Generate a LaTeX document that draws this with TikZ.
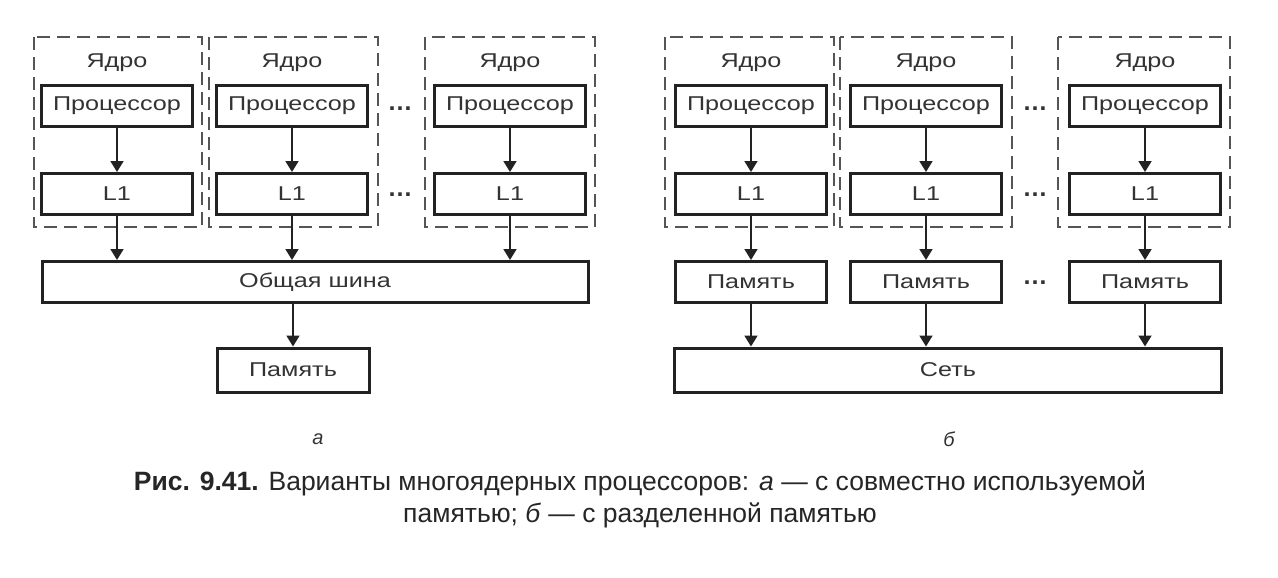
\documentclass[tikz,border=0pt]{standalone}
\usepackage{fontspec}
\setmainfont{Liberation Sans}
\newfontfamily\diafont[FakeStretch=1.26]{Liberation Sans}
\usetikzlibrary{arrows.meta}
\definecolor{boxcol}{HTML}{222222}
\definecolor{dashcol}{HTML}{555555}
\definecolor{txtcol}{HTML}{333333}
\tikzset{
  unit/.style={draw=boxcol, line width=3pt, minimum height=41pt, inner sep=0pt,
    text=txtcol, font=\diafont\fontsize{20}{21}\selectfont},
  proc/.style={unit, minimum width=151pt},
  core/.style={draw=dashcol, line width=2.3pt, dash pattern=on 13pt off 7pt},
  corelabel/.style={text=txtcol, font=\diafont\fontsize{20}{21}\selectfont},
  link/.style={draw=boxcol, line width=1.8pt, -{Triangle[length=11pt,width=13pt]}},
  dots/.style={text=txtcol, font=\bfseries\fontsize{25}{25}\selectfont},
  sub/.style={text=txtcol, font=\itshape\fontsize{20}{20}\selectfont},
}
\begin{document}
\begin{tikzpicture}[x=1pt,y=-1pt]
\useasboundingbox[fill=white] (0,0) rectangle (1278,578);

% ---- (a) shared memory ----
\foreach \i/\l/\r in {1/34/202, 2/209/378, 3/425/595}{
  \draw[core] (\l,37) rectangle (\r,227);
}
\node[corelabel] (ka1) at (117,63) {Ядро};
\node[corelabel] (ka2) at (292,63) {Ядро};
\node[corelabel] (ka3) at (510,63) {Ядро};
\node[proc] (pa1) at (117,106) {Процессор};
\node[proc] (pa2) at (292,106) {Процессор};
\node[proc] (pa3) at (510,106) {Процессор};
\node[proc] (la1) at (117,194) {L1};
\node[proc] (la2) at (292,194) {L1};
\node[proc] (la3) at (510,194) {L1};
\node[dots] (da1) at (400,109) {\dots};
\node[dots] (da2) at (400,195) {\dots};
\node[unit, minimum width=546pt] (bus) at (315,282) {Общая шина};
\node[unit, minimum width=152pt, minimum height=44pt] (mema) at (293,370) {Память};
\foreach \i in {1,2,3}{
  \draw[link] (pa\i.south) -- (la\i.north);
  \draw[link] (la\i.south) -- (la\i.south |- bus.north);
}
\draw[link] (bus.south -| mema.north) -- (mema.north);
\node[sub] (suba) at (318,439) {а};

% ---- (b) distributed memory ----
\foreach \i/\l/\r in {1/665/834, 2/840/1012, 3/1058/1230}{
  \draw[core] (\l,37) rectangle (\r,227);
}
\node[corelabel] (kb1) at (751,63) {Ядро};
\node[corelabel] (kb2) at (926,63) {Ядро};
\node[corelabel] (kb3) at (1145,63) {Ядро};
\node[proc] (pb1) at (751,106) {Процессор};
\node[proc] (pb2) at (926,106) {Процессор};
\node[proc] (pb3) at (1145,106) {Процессор};
\node[proc] (lb1) at (751,194) {L1};
\node[proc] (lb2) at (926,194) {L1};
\node[proc] (lb3) at (1145,194) {L1};
\node[proc] (mb1) at (751,282) {Память};
\node[proc] (mb2) at (926,282) {Память};
\node[proc] (mb3) at (1145,282) {Память};
\node[dots] (db1) at (1035,109) {\dots};
\node[dots] (db2) at (1035,195) {\dots};
\node[dots] (db3) at (1035,283) {\dots};
\node[unit, minimum width=547pt, minimum height=44pt] (net) at (948,370) {Сеть};
\foreach \i in {1,2,3}{
  \draw[link] (pb\i.south) -- (lb\i.north);
  \draw[link] (lb\i.south) -- (mb\i.north);
  \draw[link] (mb\i.south) -- (mb\i.south |- net.north);
}
\node[sub] (subb) at (949,439) {б};

% ---- caption ----
\node[text=black!85, align=center, font=\fontsize{26.5}{32}\selectfont] (cap) at (640,499)
  {\textbf{Рис. 9.41.} Варианты многоядерных процессоров: \textit{а} — с совместно используемой\\
   памятью; \textit{б} — с разделенной памятью};
\end{tikzpicture}
\end{document}
